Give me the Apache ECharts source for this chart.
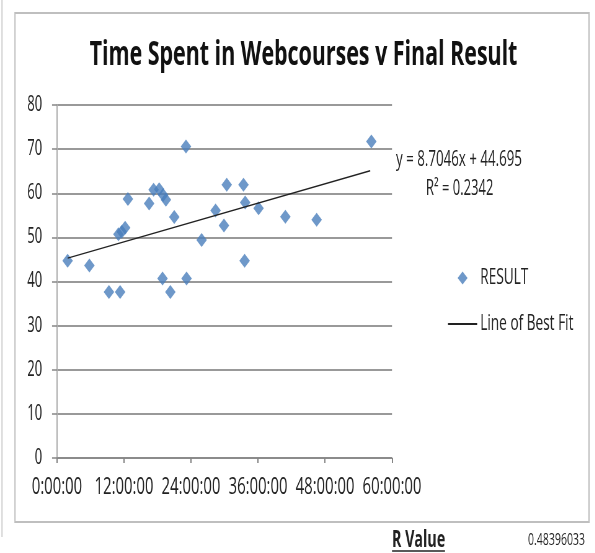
<!DOCTYPE html>
<html>
<head>
<meta charset="utf-8">
<title>Time Spent in Webcourses v Final Result</title>
<script src="https://cdn.jsdelivr.net/npm/echarts@6/dist/echarts.min.js"></script>
<style>
  html, body { margin: 0; padding: 0; background: #fff; overflow: hidden; }
  /* the source picture is squeezed sideways, so draw wide and squash */
  #main { width: 960px; height: 553px; transform: scaleX(0.62); transform-origin: 0 0; }
</style>
</head>
<body>
<div id="main"></div>
<script>
// hours spent in webcourses (x) and final result (y)
const hours = [1.9, 5.8, 9.3, 11.3, 11.0, 11.6, 12.2, 12.7, 16.5, 17.3, 18.3, 19.0, 19.5, 18.9, 20.3,
  21.0, 23.1, 23.2, 25.9, 28.4, 29.9, 30.4, 33.4, 33.7, 33.6, 36.1, 40.9, 46.5, 56.3]
const results = [44.7, 43.6, 37.6, 37.6, 50.7, 51.3, 52.2, 58.7, 57.7, 60.8, 60.9, 59.6, 58.5, 40.7, 37.6,
  54.6, 70.6, 40.7, 49.4, 56.1, 52.7, 61.9, 61.9, 57.9, 44.7, 56.6, 54.7, 54.0, 71.7]
// ends of the best fit line
const fitHours = [1.9, 56.1]
const fitResults = [45.3, 65.1]
const xTickLabels = ['0:00:00', '12:00:00', '24:00:00', '36:00:00', '48:00:00', '60:00:00']

const S = 0.62 // horizontal squash
const px = x => x / S // screen x -> chart x
const W = 960
const FONT = '"Open Sans"'

let myChart = echarts.init(document.getElementById('main'), null, { renderer: 'canvas' })
let option = {
  animation: false,
  textStyle: { fontFamily: FONT },
  graphic: [
    // outer frame
    { type: 'rect', shape: { x: px(15), y: 13, width: px(589) - px(15), height: 509 },
      style: { fill: 'none', stroke: '#bfbfbf', lineWidth: 2 } },
    { type: 'line', shape: { x1: px(2), y1: 0, x2: px(2), y2: 537 }, style: { stroke: '#d0d0d0', lineWidth: 2 } },
    // title
    { type: 'text', x: px(303.5), y: 55,
      style: { text: 'Time Spent in Webcourses v Final Result', fontFamily: FONT, fontWeight: 'bold',
        fontSize: 34.5, fill: '#111', align: 'center', verticalAlign: 'middle' } },
    // trendline label
    { type: 'text', x: px(396), y: 160,
      style: { text: 'y = 8.7046x + 44.695', fontFamily: FONT, fontSize: 21.5, fill: '#222', align: 'left', verticalAlign: 'middle' } },
    { type: 'text', x: px(426), y: 189,
      style: { text: 'R² = 0.2342', fontFamily: FONT, fontSize: 21, fill: '#222', align: 'left', verticalAlign: 'middle' } },
    // R value under the chart
    { type: 'text', x: px(392), y: 540,
      style: { text: 'R Value', fontFamily: FONT, fontWeight: 'bold', fontSize: 23, fill: '#222', align: 'left', verticalAlign: 'middle' } },
    { type: 'line', shape: { x1: px(392), y1: 551, x2: px(445), y2: 551 }, style: { stroke: '#222', lineWidth: 1.4 } },
    { type: 'text', x: px(528), y: 540,
      style: { text: '0.48396033', fontFamily: FONT, fontSize: 17, fill: '#222', align: 'left', verticalAlign: 'middle' } }
  ],
  legend: {
    orient: 'vertical',
    left: px(448),
    top: 267,
    padding: 0,
    itemWidth: 47,
    itemHeight: 13,
    itemGap: 24,
    textStyle: { fontFamily: FONT, fontSize: 22, lineHeight: 20, color: '#222' },
    data: [
      { name: 'RESULT', icon: 'path://M8,0L16,6.5L8,13L0,6.5Z' },
      { name: 'Line of Best Fit', icon: 'path://M0,0L47,0L47,2L0,2Z' }
    ]
  },
  grid: {
    left: px(57),
    right: W - px(392),
    top: 105,
    bottom: 553 - 458,
    containLabel: false,
    outerBoundsMode: 'none'
  },
  xAxis: {
    type: 'value',
    min: 0,
    max: 60,
    interval: 12,
    axisLine: { lineStyle: { color: '#868686', width: 1.5 } },
    axisTick: { show: true, length: 5, lineStyle: { color: '#868686', width: 2 } },
    splitLine: { show: false },
    axisLabel: { margin: 17, fontSize: 24, color: '#222', formatter: v => xTickLabels[Math.round(v / 12)] }
  },
  yAxis: {
    type: 'value',
    min: 0,
    max: 80,
    interval: 10,
    axisLine: { show: true, lineStyle: { color: '#b0b0b0', width: 2 } },
    axisTick: { show: true, length: 8, lineStyle: { color: '#868686', width: 1.5 } },
    splitLine: { lineStyle: { color: '#999', width: 1.8 } },
    axisLabel: { margin: 24, fontSize: 21, color: '#222' }
  },
  series: [
    {
      name: 'RESULT',
      type: 'scatter',
      symbol: 'diamond',
      symbolSize: [17, 14],
      itemStyle: { color: '#4a7ebb' },
      data: hours.map((h, i) => [h, results[i]])
    },
    {
      name: 'Line of Best Fit',
      type: 'line',
      symbol: 'none',
      itemStyle: { color: '#222' },
      lineStyle: { color: '#222', width: 1.5 },
      data: fitHours.map((h, i) => [h, fitResults[i]])
    }
  ]
}
myChart.setOption(option, true)
</script>
</body>
</html>
